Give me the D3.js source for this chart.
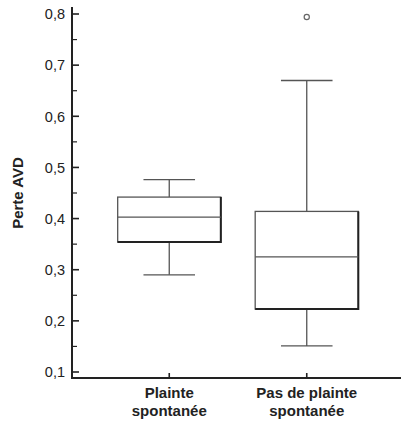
<!DOCTYPE html>
<html>
<head>
<meta charset="utf-8">
<script src="https://cdn.jsdelivr.net/npm/d3@7"></script>
<style>
  body { margin: 0; background: #fff; }
  svg { display: block; font-family: "Liberation Sans", Arial, sans-serif; }
</style>
</head>
<body>
<svg id="chart" width="401" height="421"></svg>
<script>
// Groups and their box-plot statistics (Perte AVD)
const categories = [["Plainte", "spontanée"], ["Pas de plainte", "spontanée"]];
const whiskerLow  = [0.290, 0.151];
const q1          = [0.354, 0.223];
const median      = [0.403, 0.325];
const q3          = [0.442, 0.414];
const whiskerHigh = [0.476, 0.670];
const outliers    = [[], [0.794]];
const yTicks = [0.1, 0.2, 0.3, 0.4, 0.5, 0.6, 0.7, 0.8];
const yMinorTicks = [0.15, 0.25, 0.35, 0.45, 0.55, 0.65, 0.75];

const svg = d3.select("#chart");
const axisColor = "#222";
const boxColor = "#555";

const plotLeft = 72, plotRight = 401, plotTop = 7, plotBottom = 378;

const y = d3.scaleLinear().domain([0.1, 0.8]).range([372, 14]);
const keys = categories.map((c, i) => i);
const x = d3.scalePoint().domain(keys).range([73, 403]).padding(0.7);

const boxW = x.step() * 0.75;
const capW = boxW / 2;

// Boxes
const g = svg.append("g");
keys.forEach(i => {
  const cx = x(i);
  const gb = g.append("g");
  // whiskers
  gb.append("line").attr("x1", cx).attr("x2", cx)
    .attr("y1", y(q3[i])).attr("y2", y(whiskerHigh[i]))
    .attr("stroke", boxColor).attr("stroke-width", 1.3);
  gb.append("line").attr("x1", cx).attr("x2", cx)
    .attr("y1", y(q1[i])).attr("y2", y(whiskerLow[i]))
    .attr("stroke", boxColor).attr("stroke-width", 1.3);
  [whiskerHigh[i], whiskerLow[i]].forEach(v => {
    gb.append("line").attr("x1", cx - capW / 2).attr("x2", cx + capW / 2)
      .attr("y1", y(v)).attr("y2", y(v))
      .attr("stroke", boxColor).attr("stroke-width", 1.3);
  });
  // box
  gb.append("rect")
    .attr("x", cx - boxW / 2).attr("y", y(q3[i]))
    .attr("width", boxW).attr("height", y(q1[i]) - y(q3[i]))
    .attr("fill", "none").attr("stroke", boxColor).attr("stroke-width", 1.3);
  // heavier bottom and right edges
  gb.append("path")
    .attr("d", `M${cx - boxW / 2},${y(q1[i])}H${cx + boxW / 2}V${y(q3[i])}`)
    .attr("fill", "none").attr("stroke", "#222").attr("stroke-width", 2);
  // median
  gb.append("line").attr("x1", cx - boxW / 2).attr("x2", cx + boxW / 2)
    .attr("y1", y(median[i])).attr("y2", y(median[i]))
    .attr("stroke", boxColor).attr("stroke-width", 1.3);
  // outliers
  outliers[i].forEach(v => {
    gb.append("circle").attr("cx", cx).attr("cy", y(v)).attr("r", 2.6)
      .attr("fill", "#fff").attr("stroke", "#666").attr("stroke-width", 1.2);
  });
});

// Y axis
const yAxisG = svg.append("g").attr("transform", `translate(${plotLeft},0)`);
yAxisG.append("line").attr("x1", 0).attr("x2", 0).attr("y1", plotTop).attr("y2", plotBottom)
  .attr("stroke", axisColor).attr("stroke-width", 2);
yAxisG.selectAll("line.major").data(yTicks).join("line")
  .attr("class", "major")
  .attr("x1", 0).attr("x2", 7).attr("y1", d => y(d)).attr("y2", d => y(d))
  .attr("stroke", axisColor).attr("stroke-width", 1.6);
yAxisG.selectAll("line.minor").data(yMinorTicks).join("line")
  .attr("class", "minor")
  .attr("x1", 0).attr("x2", 5).attr("y1", d => y(d)).attr("y2", d => y(d))
  .attr("stroke", axisColor).attr("stroke-width", 1.2);
yAxisG.selectAll("text").data(yTicks).join("text")
  .attr("x", -7).attr("y", d => y(d)).attr("dy", "0.36em")
  .attr("text-anchor", "end").attr("font-size", 14.5).attr("fill", "#222")
  .text(d => d3.format(".1f")(d).replace(".", ","));

// X axis
const xAxisG = svg.append("g").attr("transform", `translate(0,${plotBottom})`);
xAxisG.append("line").attr("x1", plotLeft - 1).attr("x2", plotRight).attr("y1", 0).attr("y2", 0)
  .attr("stroke", axisColor).attr("stroke-width", 2);
xAxisG.selectAll("line.tick").data(keys).join("line")
  .attr("class", "tick")
  .attr("x1", d => x(d)).attr("x2", d => x(d)).attr("y1", 0).attr("y2", -5)
  .attr("stroke", axisColor).attr("stroke-width", 1.6);
const labels = xAxisG.selectAll("text").data(keys).join("text")
  .attr("text-anchor", "middle").attr("font-size", 15).attr("font-weight", "bold")
  .attr("fill", "#222");
labels.each(function (d) {
  const t = d3.select(this);
  categories[d].forEach((line, j) => {
    t.append("tspan").attr("x", x(d)).attr("y", 20 + j * 18).text(line);
  });
});

// Y axis title
svg.append("text")
  .attr("transform", `translate(23,193) rotate(-90)`)
  .attr("text-anchor", "middle").attr("font-size", 15).attr("font-weight", "bold")
  .attr("fill", "#222")
  .text("Perte AVD");
</script>
</body>
</html>
